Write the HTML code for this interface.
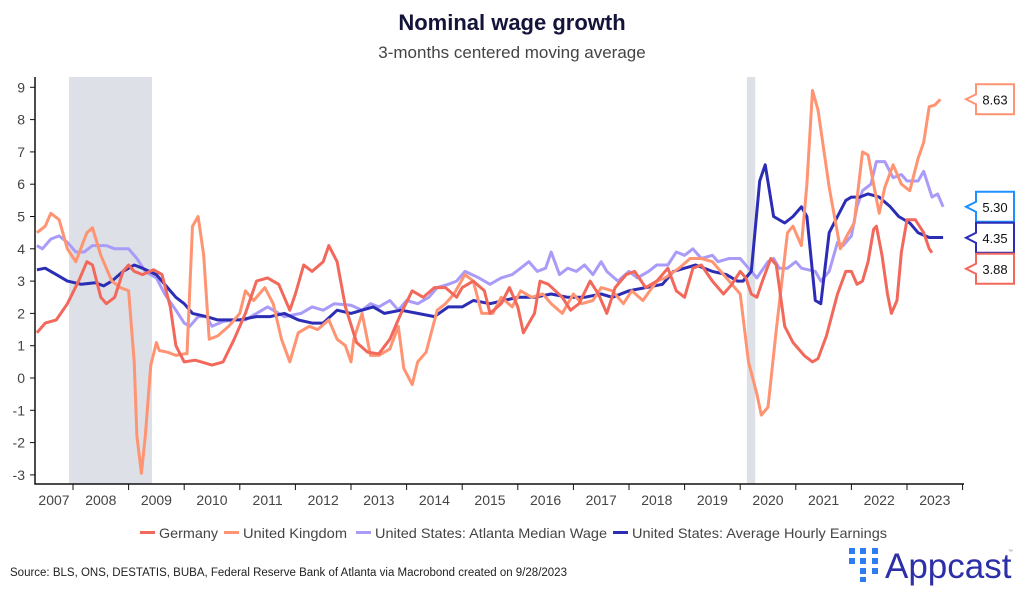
<!DOCTYPE html>
<html><head><meta charset="utf-8"><style>
body{margin:0;background:#fff;width:1024px;height:589px;overflow:hidden;font-family:"Liberation Sans",sans-serif}
svg{position:absolute;left:0;top:0}
</style></head><body>
<svg id="c" width="1024" height="589">
<text x="512" y="30" text-anchor="middle" font-size="22" font-weight="bold" fill="#14143a">Nominal wage growth</text>
<text x="512" y="58" text-anchor="middle" font-size="17" fill="#444">3-months centered moving average</text>
<g id="shade"></g><g id="axes"></g><g id="lines"></g><g id="tags"></g>
<g id="legend" font-size="14" fill="#444"></g>
<text x="10" y="576" font-size="11.5" fill="#222">Source: BLS, ONS, DESTATIS, BUBA, Federal Reserve Bank of Atlanta via Macrobond created on 9/28/2023</text>
<g>
<g fill="#2f7cf0">
<rect x="849" y="548" width="6" height="6"/><rect x="860" y="548" width="6" height="6"/><rect x="872" y="548" width="6" height="6"/>
<rect x="849" y="558" width="6" height="6"/><rect x="860" y="558" width="6" height="6"/><rect x="872" y="558" width="6" height="6"/>
<rect x="860" y="568" width="6" height="6"/><rect x="872" y="568" width="6" height="6"/><rect x="860" y="577" width="6" height="5"/>
</g>
<text x="885" y="578" font-size="35" fill="#2d2fa8">Appcast</text>
<text x="1008" y="553" font-size="5" fill="#888">™</text>
</g>
</svg>
<script>
const years=[2007,2008,2009,2010,2011,2012,2013,2014,2015,2016,2017,2018,2019,2020,2021,2022,2023];
const yTicks=[9,8,7,6,5,4,3,2,1,0,-1,-2,-3];
const recessions=[[2007.93,2009.42],[2020.12,2020.27]];
const deT=[2007.35,2007.5,2007.7,2007.9,2008.1,2008.25,2008.35,2008.5,2008.6,2008.75,2008.9,2009.0,2009.1,2009.25,2009.45,2009.6,2009.75,2009.85,2010.0,2010.2,2010.5,2010.7,2010.9,2011.1,2011.3,2011.5,2011.7,2011.9,2012.0,2012.15,2012.3,2012.5,2012.6,2012.75,2012.9,2013.1,2013.3,2013.5,2013.7,2013.9,2014.1,2014.3,2014.5,2014.7,2014.9,2015.0,2015.2,2015.4,2015.5,2015.7,2015.85,2016.0,2016.1,2016.3,2016.4,2016.55,2016.8,2016.95,2017.1,2017.3,2017.45,2017.6,2017.75,2017.95,2018.1,2018.3,2018.5,2018.7,2018.85,2019.0,2019.15,2019.3,2019.5,2019.7,2019.85,2020.0,2020.1,2020.2,2020.3,2020.4,2020.55,2020.65,2020.8,2020.95,2021.15,2021.3,2021.4,2021.55,2021.75,2021.9,2022.0,2022.1,2022.2,2022.3,2022.4,2022.45,2022.55,2022.65,2022.72,2022.82,2022.9,2023.0,2023.15,2023.3,2023.4,2023.45];
const deV=[1.4,1.7,1.8,2.3,3.0,3.6,3.5,2.5,2.3,2.5,3.3,3.5,3.3,3.2,3.35,3.2,2.2,1.0,0.5,0.55,0.4,0.5,1.2,2.0,3.0,3.1,2.9,2.1,2.6,3.5,3.3,3.6,4.1,3.6,2.2,1.1,0.8,0.75,1.2,2.0,2.7,2.5,2.8,2.8,2.5,2.8,3.0,2.7,2.0,2.3,2.8,2.2,1.4,2.0,3.0,2.9,2.5,2.1,2.3,3.0,2.6,2.0,2.8,3.2,3.3,2.8,3.0,3.4,2.7,2.5,3.4,3.5,3.0,2.6,2.9,3.3,3.1,2.6,2.5,3.0,3.7,3.5,1.6,1.1,0.7,0.5,0.6,1.3,2.6,3.3,3.3,2.9,3.0,3.6,4.6,4.7,3.8,2.6,2.0,2.4,3.9,4.9,4.9,4.5,4.0,3.88];
const ukT=[2007.35,2007.5,2007.6,2007.75,2007.9,2008.05,2008.25,2008.35,2008.5,2008.7,2008.85,2009.0,2009.1,2009.15,2009.23,2009.3,2009.4,2009.5,2009.55,2009.7,2009.85,2010.0,2010.05,2010.15,2010.25,2010.35,2010.45,2010.6,2010.8,2011.0,2011.1,2011.25,2011.45,2011.6,2011.75,2011.9,2012.05,2012.25,2012.4,2012.6,2012.75,2012.9,2013.0,2013.05,2013.2,2013.35,2013.5,2013.7,2013.85,2013.95,2014.1,2014.2,2014.35,2014.55,2014.7,2014.85,2015.05,2015.2,2015.35,2015.55,2015.7,2015.9,2016.05,2016.25,2016.45,2016.6,2016.8,2017.0,2017.15,2017.35,2017.5,2017.7,2017.9,2018.05,2018.25,2018.5,2018.65,2018.9,2019.1,2019.3,2019.5,2019.7,2019.85,2020.0,2020.15,2020.3,2020.38,2020.5,2020.65,2020.85,2020.95,2021.1,2021.2,2021.3,2021.4,2021.6,2021.8,2021.95,2022.05,2022.2,2022.3,2022.4,2022.5,2022.6,2022.75,2022.9,2023.05,2023.2,2023.3,2023.4,2023.5,2023.6];
const ukV=[4.5,4.7,5.1,4.9,4.0,3.6,4.5,4.65,3.8,3.0,2.8,2.7,0.5,-1.8,-2.95,-1.8,0.4,1.1,0.85,0.8,0.7,0.75,0.75,4.7,5.0,3.8,1.2,1.3,1.6,2.0,2.7,2.4,2.8,2.3,1.2,0.5,1.4,1.6,1.5,1.8,1.2,1.0,0.5,1.2,2.0,0.7,0.7,0.9,1.6,0.3,-0.2,0.5,0.8,2.1,2.3,2.6,3.2,3.0,2.0,2.0,2.5,2.2,2.7,2.5,2.6,2.3,2.0,2.6,2.3,2.4,2.8,2.7,2.3,2.7,2.4,3.0,3.1,3.4,3.7,3.7,3.6,3.2,2.9,2.6,0.5,-0.5,-1.15,-0.9,1.5,4.5,4.7,4.1,6.0,8.9,8.3,5.9,4.0,4.5,4.8,7.0,6.9,6.0,5.1,5.9,6.6,6.0,5.8,6.8,7.3,8.4,8.45,8.63];
const atT=[2007.35,2007.45,2007.6,2007.75,2007.9,2008.05,2008.2,2008.35,2008.6,2008.75,2009.0,2009.15,2009.3,2009.5,2009.65,2009.85,2010.0,2010.1,2010.25,2010.4,2010.5,2010.7,2010.9,2011.1,2011.3,2011.5,2011.8,2012.1,2012.3,2012.5,2012.7,2013.0,2013.2,2013.35,2013.5,2013.7,2013.85,2014.0,2014.2,2014.4,2014.55,2014.75,2014.9,2015.05,2015.3,2015.5,2015.7,2015.9,2016.05,2016.2,2016.35,2016.5,2016.6,2016.75,2016.9,2017.05,2017.2,2017.35,2017.5,2017.6,2017.8,2018.0,2018.15,2018.35,2018.5,2018.7,2018.85,2019.0,2019.15,2019.3,2019.5,2019.6,2019.8,2020.0,2020.15,2020.3,2020.5,2020.6,2020.7,2020.85,2021.0,2021.1,2021.35,2021.45,2021.6,2021.75,2021.85,2022.0,2022.1,2022.2,2022.35,2022.45,2022.6,2022.75,2022.9,2023.0,2023.2,2023.3,2023.45,2023.55,2023.65];
const atV=[4.1,4.0,4.3,4.4,4.2,3.9,3.9,4.1,4.1,4.0,4.0,3.7,3.3,3.1,2.6,2.1,1.7,1.6,1.9,1.9,1.6,1.75,1.8,1.8,2.0,2.2,1.9,2.0,2.2,2.1,2.3,2.25,2.1,2.3,2.2,2.4,2.1,2.4,2.3,2.5,2.8,2.9,3.0,3.3,3.1,2.9,3.1,3.2,3.4,3.6,3.3,3.4,3.9,3.2,3.4,3.3,3.5,3.2,3.6,3.3,3.0,3.3,3.1,3.3,3.5,3.5,3.9,3.8,4.0,3.7,3.8,3.6,3.7,3.7,3.4,3.1,3.6,3.7,3.4,3.4,3.6,3.4,3.3,3.0,3.3,4.2,4.1,4.4,5.3,5.8,6.0,6.7,6.7,6.2,6.3,6.1,6.1,6.4,5.6,5.7,5.30];
const ahT=[2007.35,2007.5,2007.7,2007.9,2008.15,2008.4,2008.55,2008.7,2008.9,2009.1,2009.25,2009.5,2009.7,2009.85,2010.0,2010.15,2010.4,2010.6,2010.85,2011.0,2011.3,2011.55,2011.8,2012.05,2012.3,2012.5,2012.75,2013.0,2013.4,2013.6,2013.9,2014.2,2014.5,2014.75,2015.0,2015.2,2015.5,2015.75,2016.0,2016.3,2016.6,2016.9,2017.2,2017.5,2017.7,2018.0,2018.3,2018.6,2018.8,2019.0,2019.2,2019.5,2019.75,2019.95,2020.05,2020.2,2020.35,2020.45,2020.6,2020.8,2020.95,2021.1,2021.2,2021.35,2021.45,2021.6,2021.75,2021.9,2022.0,2022.15,2022.3,2022.5,2022.7,2022.85,2023.05,2023.2,2023.4,2023.55,2023.65];
const ahV=[3.35,3.4,3.2,3.0,2.9,2.95,2.85,3.0,3.3,3.5,3.4,3.2,2.8,2.5,2.3,2.0,1.9,1.8,1.8,1.8,1.9,1.9,2.0,1.8,1.7,1.7,2.1,2.0,2.2,2.0,2.1,2.0,1.9,2.2,2.2,2.4,2.3,2.4,2.5,2.5,2.6,2.5,2.5,2.6,2.5,2.7,2.8,2.9,3.3,3.4,3.5,3.3,3.2,3.0,3.0,3.3,6.1,6.6,5.0,4.8,5.0,5.3,5.0,2.4,2.3,4.5,5.0,5.5,5.6,5.6,5.7,5.6,5.3,5.0,4.8,4.5,4.35,4.35,4.35];
const seriesNames=["Germany","United Kingdom","United States: Atlanta Median Wage","United States: Average Hourly Earnings"];
const lastLabels=["3.88","8.63","5.30","4.35"];

const NS="http://www.w3.org/2000/svg";
const X=t=>73+(t-2008)*55.6;
const Y=v=>378-v*32.3;
function mk(tag,attrs,parent){const e=document.createElementNS(NS,tag);for(const k in attrs)e.setAttribute(k,attrs[k]);parent.appendChild(e);return e;}
const shade=document.getElementById('shade'),axes=document.getElementById('axes'),lines=document.getElementById('lines'),tags=document.getElementById('tags'),legend=document.getElementById('legend');
recessions.forEach(r=>{const e=mk('rect',{x:X(r[0]),y:77,width:X(r[1])-X(r[0]),height:407,fill:'#dde0e6'},shade);

});
const ax=mk('path',{d:'M35,77V484H964',stroke:'#111','stroke-width':1.5,fill:'none'},axes);


yTicks.forEach(v=>{mk('line',{x1:30,x2:35,y1:Y(v),y2:Y(v),stroke:'#111'},axes);
const t=mk('text',{x:25,y:Y(v)+5,'text-anchor':'end','font-size':14,fill:'#444'},axes);t.textContent=v;

});
for(let yr=2008;yr<=2024;yr++)mk('line',{x1:X(yr),x2:X(yr),y1:484,y2:490,stroke:'#111'},axes);
years.forEach(yr=>{const cx=yr===2007?(35+X(2008))/2:X(yr+0.5);
const t=mk('text',{x:cx,y:505,'text-anchor':'middle','font-size':14,fill:'#444'},axes);t.textContent=yr;

});
const data=[[deT,deV,'#f2695c'],[ukT,ukV,'#ff9473'],[atT,atV,'#a99bf8'],[ahT,ahV,'#2c2db5']];
const order=[2,3,1,0];
order.forEach(i=>{const [ts,vs,c]=data[i];
const p=mk('polyline',{points:ts.map((t,j)=>X(t).toFixed(1)+','+Y(vs[j]).toFixed(1)).join(' '),fill:'none',stroke:c,'stroke-width':3,'stroke-linejoin':'round'},lines);

});
const tagCols=['#f2695c','#ff9473','#1e90ff','#2c2db5'];
const tagOrder=[1,2,3,0];let prev=-99;
tagOrder.forEach(i=>{const vs=data[i][1];let cy=Y(vs[vs.length-1]);if(cy<prev+31)cy=prev+31;prev=cy;
const g=mk('g',{},tags);


mk('path',{d:`M976,${cy-15}H1014V${cy+15}H976V${cy+5}L966,${cy}L976,${cy-5}Z`,fill:'#fff',stroke:tagCols[i],'stroke-width':2},g);
const t=mk('text',{x:995,y:cy+5,'text-anchor':'middle','font-size':13,fill:'#111'},g);t.textContent=lastLabels[i];});
const lx=[140,224,356,613];
const lw=[59,104,232,255];
seriesNames.forEach((n,i)=>{const g=mk('g',{},legend);


mk('rect',{x:lx[i],y:531,width:15,height:3,fill:data[i][2]},g);
const t=mk('text',{x:lx[i]+19,y:538,textLength:lw[i],lengthAdjust:'spacingAndGlyphs'},g);t.textContent=n;});
</script>
</body></html>
